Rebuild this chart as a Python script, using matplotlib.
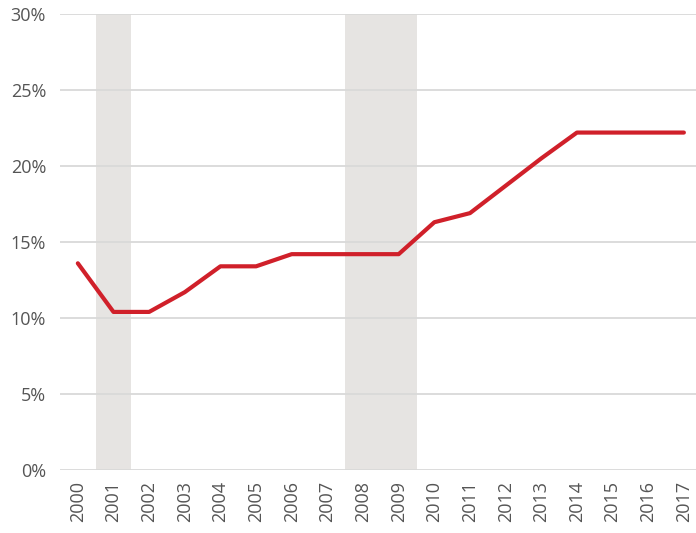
import matplotlib.pyplot as plt
import numpy as np

# 数据
years = list(range(2000, 2018))
rates = [13.6, 10.4, 10.4, 11.7, 13.4, 13.4, 14.2, 14.2, 14.2, 14.2,
         16.3, 16.9, 18.7, 20.5, 22.2, 22.2, 22.2, 22.2]
shade_spans = [(2000.5, 2001.5), (2007.5, 2009.5)]
y_ticks = [0, 5, 10, 15, 20, 25, 30]

plt.rcParams['font.family'] = ['Open Sans', 'DejaVu Sans']

W, H = 696, 533
fig = plt.figure(figsize=(W / 100, H / 100), dpi=100)
ax = fig.add_axes([60 / W, 1 - 470 / H, 1 - 60 / W, (470 - 14) / H])

# 阴影区间
for a, b in shade_spans:
    ax.axvspan(a, b, color='#e6e4e2', lw=0, zorder=0)

ax.plot(years, rates, color='#d0202a', lw=3, solid_capstyle='round',
        solid_joinstyle='round', zorder=3)

ax.set_xlim(1999.5, 2017.34)
ax.set_ylim(0, 30)
ax.set_yticks(y_ticks)
ax.set_yticklabels([f'{t}%' for t in y_ticks])
ax.set_xticks(years)
ax.set_xticklabels([str(y) for y in years], rotation=90)
ax.grid(axis='y', color='#d9d9d9', lw=1.3, zorder=1)
ax.set_axisbelow(True)
for s in ax.spines.values():
    s.set_visible(False)
ax.tick_params(length=0, labelsize=13, colors='#555555')
ax.tick_params(axis='y', pad=10)
ax.tick_params(axis='x', pad=8)

plt.savefig('out.png', dpi=100)
